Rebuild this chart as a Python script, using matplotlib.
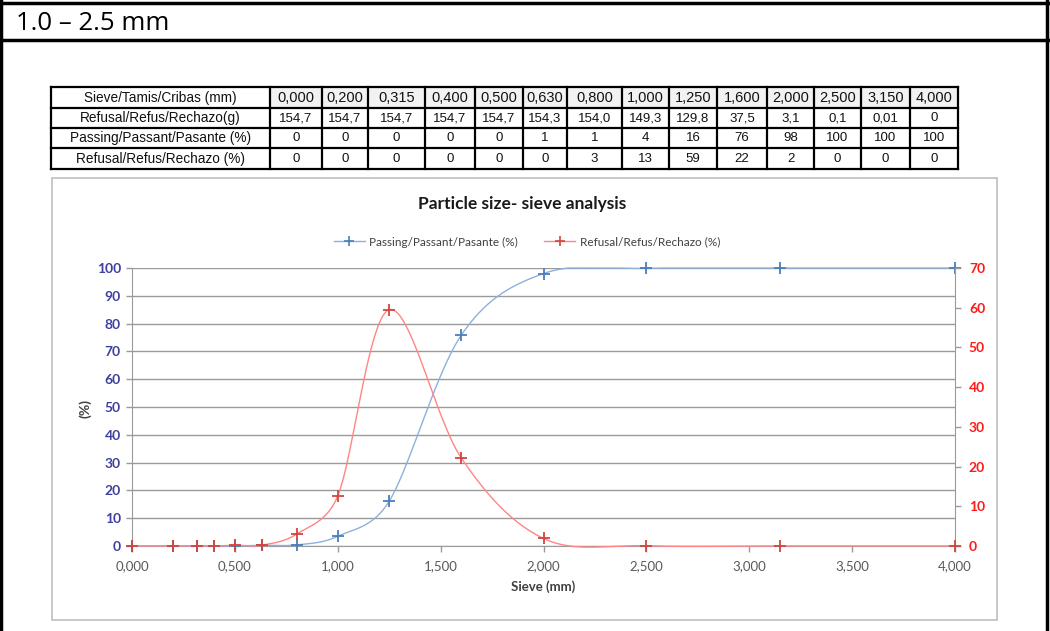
import numpy as np
import matplotlib
matplotlib.use("Agg")
import matplotlib.pyplot as plt
from matplotlib.lines import Line2D
from matplotlib.patches import Rectangle

# ---------------- data ----------------
sieve_mm = [0.0, 0.2, 0.315, 0.4, 0.5, 0.63, 0.8, 1.0, 1.25, 1.6, 2.0, 2.5, 3.15, 4.0]
passing_pct = [0, 0, 0, 0, 0, 0.3, 0.4, 3.5, 16.1, 75.8, 98.0, 99.9, 100, 100]
refusal_pct = [0, 0, 0, 0, 0.2, 0.2, 3.0, 12.6, 59.5, 22.2, 1.9, 0.05, 0.0, 0]

table_row_labels = ["Sieve/Tamis/Cribas (mm)", "Refusal/Refus/Rechazo(g)",
                    "Passing/Passant/Pasante (%)", "Refusal/Refus/Rechazo (%)"]
table_sieve = ["0,000", "0,200", "0,315", "0,400", "0,500", "0,630", "0,800",
               "1,000", "1,250", "1,600", "2,000", "2,500", "3,150", "4,000"]
table_refusal_g = ["154,7", "154,7", "154,7", "154,7", "154,7", "154,3", "154,0",
                   "149,3", "129,8", "37,5", "3,1", "0,1", "0,01", "0"]
table_passing = ["0", "0", "0", "0", "0", "1", "1", "4", "16", "76", "98", "100", "100", "100"]
table_refusal = ["0", "0", "0", "0", "0", "0", "3", "13", "59", "22", "2", "0", "0", "0"]

header_text = "1.0 \u2013 2.5 mm"
title_text = "Particle size- sieve analysis"
legend_labels = ["Passing/Passant/Pasante (%)", "Refusal/Refus/Rechazo (%)"]
x_ticks = [0, 0.5, 1.0, 1.5, 2.0, 2.5, 3.0, 3.5, 4.0]
left_ticks = list(range(0, 101, 10))
right_ticks = list(range(0, 71, 10))

# ---------------- helpers ----------------
W, H = 1050, 631
CHART_FONT = ["Lato", "DejaVu Sans"]
TABLE_FONT = ["Liberation Sans", "DejaVu Sans"]


def fx(px):
    return px / W


def fy(py):
    return 1 - py / H


def smooth_curve(x, y, sx, sy, n=40):
    """Excel-like smoothed line: Bezier segments with Catmull-Rom tangents,
    control offsets limited to half the segment length (computed in pixel space)."""
    p = np.column_stack([np.asarray(x, float) * sx, np.asarray(y, float) * sy])
    m = len(p)
    out = []
    for i in range(m - 1):
        p0 = p[i - 1] if i > 0 else p[i]
        p1 = p[i]
        p2 = p[i + 1]
        p3 = p[i + 2] if i + 2 < m else p[i + 1]
        d12 = np.linalg.norm(p2 - p1)
        o1 = (p2 - p0) / 6.0
        o2 = (p3 - p1) / 6.0
        l1, l2 = np.linalg.norm(o1), np.linalg.norm(o2)
        if l1 > d12 / 2 and l1 > 0:
            o1 = o1 * (d12 / 2) / l1
        if l2 > d12 / 2 and l2 > 0:
            o2 = o2 * (d12 / 2) / l2
        c1 = p1 + o1
        c2 = p2 - o2
        t = np.linspace(0, 1, n)[:, None]
        seg = ((1 - t) ** 3) * p1 + 3 * ((1 - t) ** 2) * t * c1 + 3 * (1 - t) * t ** 2 * c2 + t ** 3 * p2
        out.append(seg if i == 0 else seg[1:])
    seg = np.vstack(out)
    return seg[:, 0] / sx, seg[:, 1] / sy


fig = plt.figure(figsize=(W / 100, H / 100), dpi=100)
fig.patch.set_facecolor("white")

# ---------------- page frame ----------------
for (x0, y0, x1, y1, lw) in [(0, 3, 1050, 3, 2.5), (0, 40, 1050, 40, 2.5),
                             (1, 0, 1, 631, 2.5), (1047, 0, 1047, 631, 2.5)]:
    fig.add_artist(Line2D([fx(x0), fx(x1)], [fy(y0), fy(y1)], color="black", lw=lw,
                          transform=fig.transFigure))
fig.text(fx(16), fy(23), header_text, fontsize=18.5, family=["Open Sans", "DejaVu Sans"],
         va="center", ha="left", color="black")

# ---------------- table ----------------
col_edges = [51, 270, 322, 368, 425, 475, 523, 567, 622, 669, 717, 767, 814, 861, 910, 958]
row_edges = [87, 108, 128, 148, 169]
tax = fig.add_axes([fx(col_edges[0]), fy(row_edges[-1]),
                    (col_edges[-1] - col_edges[0]) / W, (row_edges[-1] - row_edges[0]) / H])
tax.set_xlim(col_edges[0], col_edges[-1])
tax.set_ylim(row_edges[-1], row_edges[0])
tax.axis("off")
rows = [table_sieve, table_refusal_g, table_passing, table_refusal]
for c in range(1, len(col_edges) - 1):
    tax.add_patch(Rectangle((col_edges[c], row_edges[0]), col_edges[c + 1] - col_edges[c],
                            row_edges[1] - row_edges[0], facecolor="#F2F2F2", edgecolor="none"))
for r, (lab, vals) in enumerate(zip(table_row_labels, rows)):
    yc = (row_edges[r] + row_edges[r + 1]) / 2
    tax.text((col_edges[0] + col_edges[1]) / 2, yc + 0.5, lab, ha="center", va="center",
             fontsize=9.8, family=TABLE_FONT, color="#111111")
    for c, v in enumerate(vals):
        xc = (col_edges[c + 1] + col_edges[c + 2]) / 2
        tax.text(xc, yc + 0.5, v, ha="center", va="center",
                 fontsize=10.5 if r == 0 else 9.5, family=TABLE_FONT, color="#111111")
for yv in row_edges:
    tax.plot([col_edges[0], col_edges[-1]], [yv, yv], color="black", lw=1.6, clip_on=False)
for xv in col_edges:
    tax.plot([xv, xv], [row_edges[0], row_edges[-1]], color="black", lw=1.6, clip_on=False)

# ---------------- chart frame ----------------
fig.add_artist(Rectangle((fx(52), fy(620)), (997 - 52) / W, (620 - 178) / H,
                         transform=fig.transFigure, facecolor="none",
                         edgecolor="#BFBFBF", lw=1.2))

# ---------------- chart ----------------
left, right, top, bottom = 132, 955, 268, 546
ax = fig.add_axes([fx(left), fy(bottom), (right - left) / W, (bottom - top) / H])
ax.set_xlim(0, 4)
ax.set_ylim(0, 100)
ax2 = ax.twinx()
ax2.set_ylim(0, 70)

grid_c = "#9A9A9A"
for yv in left_ticks:
    ax.axhline(yv, color=grid_c, lw=1.0, zorder=0)

ax.set_xticks(x_ticks)
ax.set_xticklabels([f"{t:.3f}".replace(".", ",") for t in x_ticks])
ax.set_yticks(left_ticks)
ax.set_yticklabels([str(t) for t in left_ticks])
ax2.set_yticks(right_ticks)
ax2.set_yticklabels([str(t) for t in right_ticks])

for s in ["top", "right"]:
    ax.spines[s].set_visible(False)
for s in ["top", "left", "bottom"]:
    ax2.spines[s].set_visible(False)
ax.spines["left"].set_color(grid_c)
ax.spines["bottom"].set_color(grid_c)
ax2.spines["right"].set_color(grid_c)

ax.tick_params(axis="x", colors=grid_c, length=4, width=1, labelcolor="#595959",
               labelsize=9.5, pad=6)
ax.tick_params(axis="y", colors=grid_c, length=4, width=1, labelcolor="#3F3F9F",
               labelsize=10, pad=4)
ax2.tick_params(axis="y", colors=grid_c, length=4, width=1, labelcolor="#FF1A1A",
                labelsize=10, pad=6)
for lab in ax.get_xticklabels():
    lab.set_family(CHART_FONT)
for lab in ax.get_yticklabels():
    lab.set_family(CHART_FONT)
    lab.set_fontweight("bold")
for lab in ax2.get_yticklabels():
    lab.set_family(CHART_FONT)
    lab.set_fontweight("bold")

blue_line, blue_mark = "#8FB0DC", "#4A7EBB"
red_line, red_mark = "#FF8585", "#D2443F"

px_per_mm = (right - left) / 4.0
xs, ys = smooth_curve(sieve_mm, passing_pct, px_per_mm, (bottom - top) / 100.0)
ax.plot(xs, np.minimum(ys, 100.0), color=blue_line, lw=1.0, clip_on=False, zorder=3)
ax.plot(sieve_mm, passing_pct, ls="none", marker="+", ms=9, mew=1.3, color=blue_mark,
        clip_on=False, zorder=4)

xs, ys = smooth_curve(sieve_mm, refusal_pct, px_per_mm, (bottom - top) / 70.0)
ax2.plot(xs, ys, color=red_line, lw=1.0, clip_on=False, zorder=3)
ax2.plot(sieve_mm, refusal_pct, ls="none", marker="+", ms=9, mew=1.3, color=red_mark,
         clip_on=False, zorder=4)

ax.set_xlabel("Sieve (mm)", fontsize=9.5, fontweight="bold", family=CHART_FONT,
              color="#404040", labelpad=6)
fig.text(fx(85), fy(408), "(%)", rotation=90, fontsize=10, fontweight="bold",
         family=CHART_FONT, color="#404040", ha="center", va="center")
fig.text(fx(522), fy(204), title_text, fontsize=12.5, fontweight="bold",
         family=CHART_FONT, color="#1A1A1A", ha="center", va="center")

handles = [Line2D([], [], color=blue_line, lw=1.0, marker="+", ms=7, mew=1.2, mec=blue_mark),
           Line2D([], [], color=red_line, lw=1.0, marker="+", ms=7, mew=1.2, mec=red_mark)]
leg = fig.legend(handles, legend_labels, loc="center", bbox_to_anchor=(fx(527), fy(242)),
                 ncol=2, frameon=False, handlelength=2.6, columnspacing=2.2,
                 handletextpad=0.4, prop={"family": CHART_FONT, "size": 8.5})
for t in leg.get_texts():
    t.set_color("#404040")

fig.savefig("out.png", dpi=100, facecolor="white")
